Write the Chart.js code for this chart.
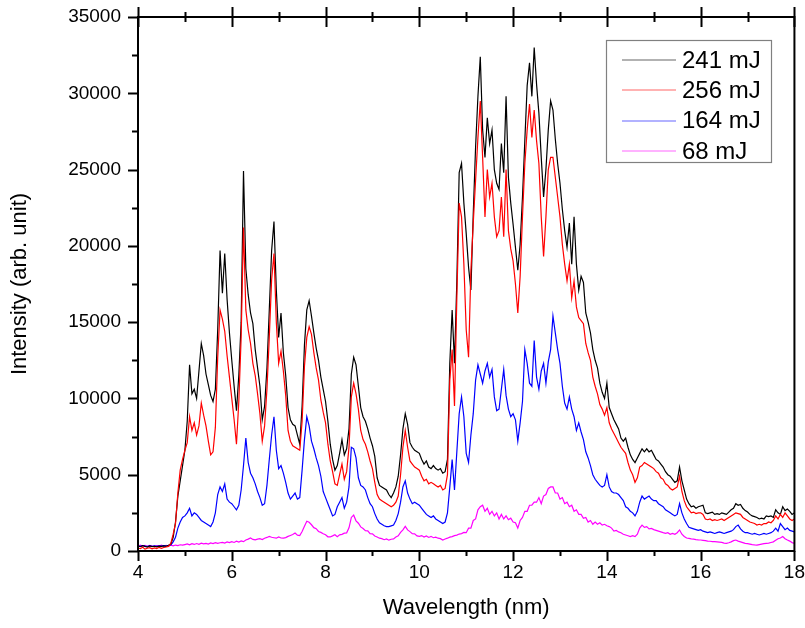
<!DOCTYPE html>
<html>
<head>
<meta charset="utf-8">
<title>Intensity vs Wavelength</title>
<script src="https://cdn.jsdelivr.net/npm/chart.js@4.4.0/dist/chart.umd.min.js"></script>
<style>
    html, body { margin: 0; padding: 0; background: #fff; }
    #wrap { width: 805px; height: 628px; position: relative; }
</style>
</head>
<body>
<div id="wrap"><canvas id="spectrum-chart"></canvas></div>
<script>
/*
*   Spectra, one value every 0.05 nm from 4 to 18 nm
*/
var wlStart = 4;
var wlStep = 0.05;

var labels241 = '241 mJ';
var black241 = [
    320, 280, 350, 300, 260, 330, 290, 310, 270, 320, 300, 340, 310, 380, 450, 900, 1900, 3600, 4600, 5600,
    6600, 8500, 12200, 10300, 10600, 10000, 11800, 13600, 12800, 11600, 10900, 10200, 9800, 10600, 14500, 19700, 16900, 19500, 16500, 14300,
    12500, 10800, 9200, 11500, 15000, 24900, 18500, 16800, 15600, 14900, 13200, 12000, 10800, 8600, 9500, 12000, 15800, 19700, 21600, 17100,
    14000, 15600, 13000, 11500, 9400, 8600, 8300, 8200, 7600, 7000, 9500, 13500, 15800, 16400, 15400, 14300, 13300, 12500, 11400, 10600,
    9800, 8500, 7000, 6000, 5300, 5600, 6400, 7300, 6300, 6700, 8000, 11600, 12700, 12200, 10800, 9400, 8800, 8500, 8000, 7400,
    6900, 6200, 4800, 4300, 4200, 4100, 4000, 3700, 3500, 3800, 4200, 4900, 6300, 8000, 9000, 8300, 7100, 6800, 6600, 6500,
    6400, 6000, 5700, 5900, 5500, 5400, 5600, 5400, 5300, 5400, 5100, 5200, 6000, 12300, 15800, 12300, 17700, 24800, 25400, 22800,
    20800, 18600, 17100, 22100, 26500, 29800, 32400, 27600, 25800, 28400, 26700, 27600, 25000, 24100, 23700, 26700, 24800, 29800, 24500, 22800,
    21400, 19900, 18400, 20100, 23200, 26900, 30500, 32000, 29800, 33000, 30600, 28700, 25800, 23200, 25000, 27600, 29500, 28900, 27000, 25400,
    24100, 22400, 21000, 19900, 21500, 18800, 21900, 18800, 17100, 18000, 17600, 15600, 15000, 14300, 13200, 12500, 12000, 11000, 10400, 10000,
    11000, 9400, 9000, 8600, 8300, 8000, 7400, 7200, 7400, 6800, 6300, 6000, 5800, 6100, 6400, 6700, 6500, 6700, 6500, 6600,
    6300, 6000, 5900, 5700, 5500, 5200, 5000, 4900, 4700, 4500, 4600, 5500, 4600, 4000, 3400, 3100, 2900, 2950, 2800, 2900,
    2950, 3000, 2500, 2450, 2500, 2550, 2400, 2450, 2400, 2500, 2450, 2400, 2550, 2700, 2800, 3100, 3000, 3050, 2800, 2650,
    2550, 2400, 2300, 2250, 2200, 2100, 2150, 2100, 2300, 2250, 2300, 2200, 2700, 2500, 2400, 2900, 2650, 2750, 2600, 2400,
    2500
];

var labels256 = '256 mJ';
var red256 = [
    200, 150, 250, 120, 180, 220, 140, 200, 160, 240, 180, 230, 260, 300, 500, 1100, 1800, 3800, 5300, 6000,
    6600, 7100, 8800, 7900, 8400, 7600, 8200, 9700, 8900, 8200, 7200, 6300, 6500, 8100, 12700, 15800, 15200, 14400, 12800, 11400,
    10000, 8600, 7000, 9800, 14000, 21200, 15800, 14500, 13600, 12300, 11500, 10300, 9000, 7200, 8200, 10600, 14000, 17800, 19500, 15000,
    12300, 13100, 11800, 10200, 7900, 7200, 6900, 6800, 6700, 6600, 8500, 12100, 14000, 14700, 14200, 13000, 12000, 11200, 9900, 9100,
    8400, 7000, 5900, 5200, 4400, 4300, 5000, 5700, 4700, 5200, 6800, 10100, 11000, 10300, 9300, 7900, 7300, 7000, 6500, 5900,
    5400, 4500, 3700, 3400, 3300, 3200, 3100, 3000, 2900, 3000, 3200, 3600, 5000, 6800, 7900, 6800, 5900, 5700, 5500, 5400,
    5300, 4900, 4600, 4700, 4400, 4500, 4400, 4300, 4200, 4300, 4000, 4100, 5000, 11200, 13200, 9500, 16600, 22800, 21900, 18800,
    14500, 12700, 18400, 21500, 24300, 27100, 29500, 25800, 21900, 25000, 23200, 24100, 21900, 20600, 21000, 23200, 20600, 25000, 21000, 19800,
    19000, 17500, 15600, 18000, 21900, 25400, 27600, 29300, 27100, 28900, 26900, 25400, 21900, 19300, 21900, 25000, 25800, 25800, 24500, 23200,
    21900, 20100, 18800, 17700, 18800, 16600, 17700, 16000, 15300, 15100, 14900, 13600, 13000, 12500, 11400, 10800, 10300, 9600, 9300, 8900,
    9400, 8400, 8000, 7700, 7400, 7100, 6800, 6600, 6400, 5800, 5300, 5000, 4500, 4800, 5500, 5600, 5800, 5700, 5600, 5500,
    5400, 5200, 5100, 4800, 4700, 4400, 4300, 4100, 4000, 4100, 4200, 4900, 3900, 3300, 2900, 2700, 2500, 2550, 2450, 2500,
    2500, 2400, 2100, 2050, 2100, 2000, 2050, 2000, 2050, 2100, 2000, 2100, 2200, 2300, 2400, 2500, 2450, 2400, 2200, 2100,
    2000, 1900, 1850, 1800, 1700, 1750, 1700, 1800, 1800, 1900, 1850, 2000, 2300, 2100, 2400, 2200, 2500, 2300, 2100, 2000,
    2100
];

var labels164 = '164 mJ';
var blue164 = [
    330, 300, 360, 320, 300, 340, 310, 330, 300, 340, 320, 350, 330, 360, 400, 600, 900, 1500, 1900, 2200,
    2300, 2500, 2800, 2300, 2500, 2400, 2200, 2000, 1900, 1800, 1700, 1600, 1900, 2500, 3700, 4200, 3900, 4400, 3400, 3200,
    3100, 2900, 2700, 3000, 4000, 5600, 7400, 5800, 5100, 4800, 4400, 3900, 3500, 3000, 3100, 4300, 6000, 7600, 8800, 6600,
    5400, 5600, 5100, 4500, 3800, 3400, 3600, 3800, 3400, 3500, 5300, 7300, 8800, 8200, 7200, 6700, 6100, 5600, 4900, 3900,
    3500, 3100, 2700, 2300, 2400, 2900, 3200, 3500, 2800, 3200, 4200, 6800, 6700, 6100, 4800, 4300, 4200, 4000, 3500, 3100,
    2900, 2450, 2100, 1850, 1750, 1650, 1600, 1600, 1650, 1700, 2000, 2450, 3200, 4200, 4600, 3800, 3400, 3100, 3200, 3100,
    3000, 2800, 2600, 2400, 2300, 2200, 2300, 2100, 2000, 1900, 1800, 1900, 2500, 4200, 6000, 4000, 6500, 9000, 10100, 8800,
    6400, 5800, 7600, 9000, 11200, 12200, 11600, 11000, 11800, 12300, 11400, 11900, 10100, 9200, 9300, 10600, 11900, 10200, 9300, 8800,
    9000, 8600, 7200, 8400, 9800, 13200, 12300, 11000, 10800, 13800, 11400, 10600, 11800, 12300, 11000, 12400, 13200, 15400, 14300, 13200,
    12300, 10800, 9700, 9300, 10100, 9300, 8800, 7900, 8400, 7800, 7300, 6500, 6100, 5600, 5000, 4700, 4500, 4300, 4200, 4300,
    5000, 4200, 3900, 3800, 3800, 3700, 3500, 3300, 2900, 2800, 2600, 2500, 2300, 2600, 3200, 3600, 3400, 3500, 3600, 3400,
    3300, 3300, 3100, 3000, 2900, 2700, 2600, 2500, 2400, 2300, 2400, 3100, 2500, 2100, 1800, 1550, 1500, 1450, 1400, 1350,
    1400, 1300, 1250, 1200, 1250, 1200, 1150, 1200, 1250, 1200, 1150, 1200, 1250, 1300, 1400, 1600, 1700, 1450, 1300, 1200,
    1200, 1150, 1100, 1150, 1100, 1050, 1100, 1150, 1100, 1150, 1200, 1300, 1500, 1300, 1800, 1600, 1400, 1500, 1350, 1300,
    1250
];

var labels68 = '68 mJ';
var magenta68 = [
    300, 380, 320, 360, 290, 370, 330, 300, 360, 320, 380, 330, 370, 320, 380, 340, 390, 360, 410, 380,
    420, 460, 400, 480, 430, 490, 440, 510, 470, 500, 450, 530, 490, 550, 500, 540, 560, 520, 590, 550,
    610, 560, 640, 590, 660, 610, 720, 780, 860, 760, 730, 780, 810, 750, 840, 890, 960, 900, 870, 840,
    920, 850, 840, 880, 960, 1020, 1080, 1180, 1040, 1010, 1280, 1620, 1950, 1880, 1720, 1530, 1460, 1280, 1220, 1130,
    1060, 930, 920, 990, 1070, 940, 1060, 1090, 1170, 1190, 1520, 2200, 2350, 1980, 1820, 1580, 1470, 1330, 1320, 1140,
    1120, 980, 920, 840, 810, 740, 790, 710, 770, 790, 920, 990, 1220, 1390, 1610, 1380, 1270, 1140, 1120, 990,
    960, 1010, 910, 990, 890, 960, 870, 910, 840, 810, 720, 790, 840, 910, 940, 1010, 1040, 1110, 1140, 1220,
    1200, 1500, 1500, 2000, 2100, 2700, 2900, 3000, 2600, 2800, 2400, 2600, 2300, 2500, 2100, 2400, 2100, 2300, 2050, 2150,
    1900, 1850, 1500, 2000, 2200, 2600, 2600, 3000, 3000, 3200, 3200, 3500, 3100, 3600, 3700, 4100, 4200, 4200, 3800, 3800,
    3400, 3500, 3100, 3200, 2900, 3000, 2600, 2700, 2400, 2400, 2150, 2200, 1900, 2000, 1750, 1900, 1750, 1850, 1700, 1750,
    1650, 1600, 1500, 1300, 1350, 1250, 1200, 1100, 1050, 1000, 950, 1000, 940, 1100, 1500, 1700, 1550, 1600, 1450, 1480,
    1400, 1350, 1300, 1250, 1200, 1160, 1200, 1100, 1150, 1100, 1200, 1380, 1100, 950, 850, 830, 800, 780, 750, 730,
    720, 700, 680, 650, 640, 620, 610, 600, 580, 560, 520, 500, 540, 600, 680, 720, 650, 600, 550, 500,
    480, 450, 420, 400, 390, 420, 450, 480, 500, 520, 560, 600, 700, 800, 850, 950, 800, 720, 650, 550,
    500
];

var fontFamily = '"Liberation Sans", Arial, sans-serif';

/*
*   pair every intensity with its wavelength
*/
var toPoints = function(values) {
    var points = [];
    for (var i = 0; i < values.length; i++) {
        points.push({ x: +(wlStart + i * wlStep).toFixed(2), y: values[i] });
    }
    return points;
};

/*
*   closed frame, in/out ticks on top, outward ticks on left and bottom
*/
var frameTicks = {
    id: 'frameTicks',
    afterDraw: function(chart) {
        var ctx = chart.ctx;
        var area = chart.chartArea;
        var xs = chart.scales.x;
        var ys = chart.scales.y;
        ctx.save();
        ctx.strokeStyle = '#000';
        ctx.lineWidth = 2;
        ctx.strokeRect(area.left, area.top, area.right - area.left, area.bottom - area.top);

        ctx.beginPath();
        for (var v = xs.min; v <= xs.max; v++) {
            var px = Math.round(xs.getPixelForValue(v)) + 0.5;
            var len = (v % 2 === 0) ? 10 : 5;
            ctx.moveTo(px, area.bottom);
            ctx.lineTo(px, area.bottom + len);
            ctx.moveTo(px, area.top - len);
            ctx.lineTo(px, area.top + len);
        }
        for (var w = ys.min; w <= ys.max; w += 2500) {
            var py = Math.round(ys.getPixelForValue(w)) + 0.5;
            var tl = (w % 5000 === 0) ? 10 : 6;
            ctx.moveTo(area.left, py);
            ctx.lineTo(area.left - tl, py);
        }
        ctx.stroke();
        ctx.restore();
    }
};

/*
*   boxed legend in the upper right corner
*/
var boxLegend = {
    id: 'boxLegend',
    afterDraw: function(chart) {
        var ctx = chart.ctx;
        var sets = chart.data.datasets;
        ctx.save();
        ctx.strokeStyle = '#808080';
        ctx.lineWidth = 1.2;
        ctx.strokeRect(606.5, 40.5, 165, 122);
        ctx.font = '24px ' + fontFamily;
        ctx.textBaseline = 'middle';
        ctx.fillStyle = '#000';
        for (var i = 0; i < sets.length; i++) {
            var y = 60 + i * 30.3;
            ctx.strokeStyle = sets[i].borderColor;
            ctx.globalAlpha = 0.6;
            ctx.lineWidth = 1.2;
            ctx.beginPath();
            ctx.moveTo(622, Math.round(y));
            ctx.lineTo(676, Math.round(y));
            ctx.stroke();
            ctx.globalAlpha = 1;
            ctx.fillText(sets[i].label, 682, y + 1);
        }
        ctx.restore();
    }
};

var ctx = document.getElementById('spectrum-chart').getContext('2d');
var spectrumChart = new Chart(ctx, {
    type: 'line',
    data: {
        datasets: [{
            label: labels241,
            data: toPoints(black241),
            borderColor: '#000000',
            order: 1
        }, {
            label: labels256,
            data: toPoints(red256),
            borderColor: '#ff0000',
            order: 0
        }, {
            label: labels164,
            data: toPoints(blue164),
            borderColor: '#0000ff',
            order: 2
        }, {
            label: labels68,
            data: toPoints(magenta68),
            borderColor: '#ff00ff',
            order: 3
        }]
    },
    options: {
        responsive: true,
        maintainAspectRatio: false,
        animation: false,
        layout: {
            padding: { top: 17, right: 0, left: 0, bottom: 0 }
        },
        elements: {
            line: { borderWidth: 1.2, tension: 0, fill: false },
            point: { radius: 0 }
        },
        plugins: {
            legend: { display: false },
            tooltip: { enabled: false }
        },
        scales: {
            x: {
                type: 'linear',
                min: 4,
                max: 18,
                afterFit: function(scale) { scale.height = 77; },
                grid: { display: false, drawTicks: true, tickLength: 10 },
                border: { display: false },
                ticks: {
                    stepSize: 2,
                    padding: 0,
                    color: '#000',
                    font: { family: fontFamily, size: 19 },
                    callback: function(v) { return String(v); }
                },
                title: {
                    display: true,
                    text: 'Wavelength (nm)',
                    color: '#000',
                    font: { family: fontFamily, size: 22 },
                    padding: { top: 0, bottom: 7 }
                }
            },
            y: {
                min: 0,
                max: 35000,
                afterFit: function(scale) { scale.width = 138; },
                grid: { display: false, drawTicks: true, tickLength: 14 },
                border: { display: false },
                ticks: {
                    stepSize: 5000,
                    padding: 3,
                    color: '#000',
                    font: { family: fontFamily, size: 19 },
                    callback: function(v) { return String(v); }
                },
                title: {
                    display: true,
                    text: 'Intensity (arb. unit)',
                    color: '#000',
                    font: { family: fontFamily, size: 22 },
                    padding: { top: 7, bottom: 0 }
                }
            }
        }
    },
    plugins: [frameTicks, boxLegend]
});
</script>
</body>
</html>
